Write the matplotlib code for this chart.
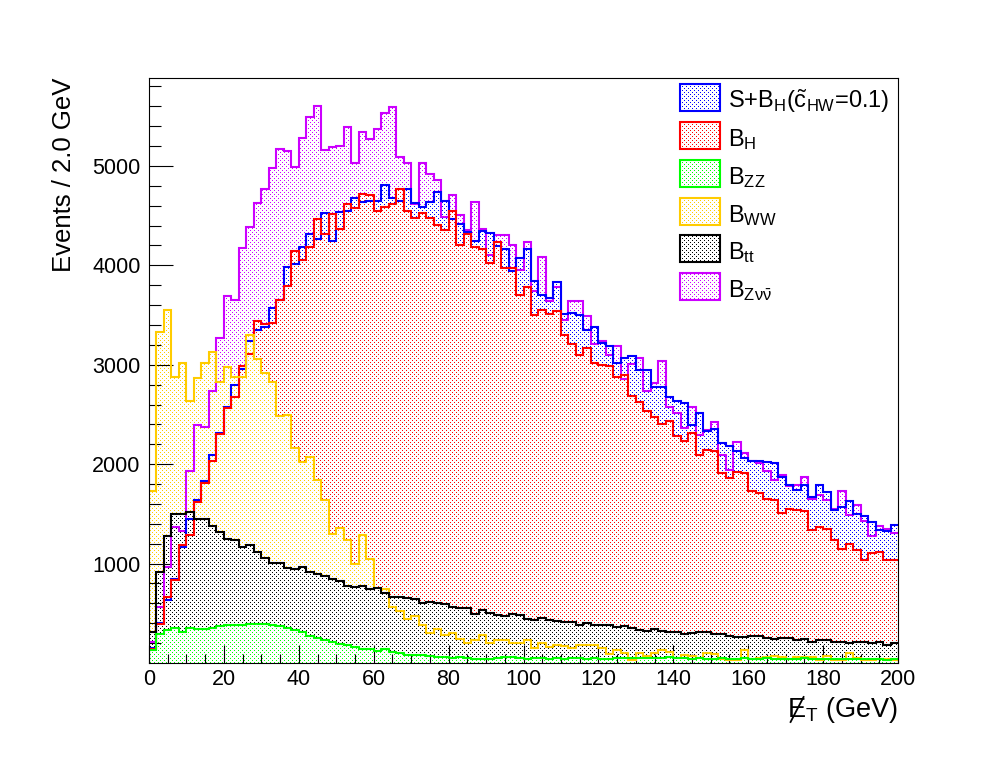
import numpy as np
import matplotlib
matplotlib.use('Agg')
import matplotlib.pyplot as plt
from matplotlib.patches import Rectangle
from matplotlib.lines import Line2D
from matplotlib.colors import to_rgba
from matplotlib.transforms import IdentityTransform

# ---------------- data (100 bins of 2 GeV, 0-200 GeV) ----------------
bin_edges = np.linspace(0, 200, 101)

s_plus_bh = [150, 400, 638, 848, 1166, 1451, 1635, 1835, 2093, 2314,
             2578, 2799, 2957, 3241, 3348, 3382, 3575, 3650, 3987, 4011,
             4188, 4315, 4262, 4529, 4245, 4539, 4546, 4680, 4640, 4647,
             4647, 4810, 4680, 4647, 4770, 4629, 4586, 4640, 4739, 4647,
             4469, 4419, 4338, 4245, 4345, 4328, 4195, 4168, 3944, 4077,
             4161, 3843, 3703, 3676, 3833, 3515, 3525, 3502, 3348, 3382,
             3214, 3191, 3017, 3063, 3084, 2947, 2947, 2779, 2779, 2672,
             2632, 2611, 2398, 2511, 2330, 2354, 2210, 2187, 2137, 2063,
             2036, 2036, 2019, 2009, 1869, 1795, 1742, 1795, 1668, 1795,
             1718, 1534, 1574, 1628, 1501, 1474, 1417, 1333, 1327, 1384]

b_h = [145, 396, 664, 838, 1190, 1283, 1617, 1808, 2036, 2304,
       2565, 2679, 2990, 3107, 3442, 3408, 3415, 3650, 3793, 4145,
       4054, 4188, 4469, 4312, 4519, 4368, 4619, 4579, 4720, 4707,
       4546, 4586, 4613, 4770, 4546, 4479, 4529, 4479, 4406, 4355,
       4546, 4205, 4318, 4185, 4161, 4027, 4238, 3977, 3977, 3700,
       3786, 3499, 3552, 3509, 3542, 3301, 3208, 3097, 3164, 3013,
       2997, 2983, 2873, 2896, 2689, 2622, 2538, 2478, 2405, 2431,
       2287, 2230, 2310, 2096, 2144, 2130, 1916, 1858, 1919, 1909,
       1735, 1708, 1652, 1635, 1507, 1551, 1534, 1527, 1333, 1367,
       1350, 1240, 1150, 1200, 1140, 1039, 1106, 1116, 1039, 1032]

b_zz = [129, 289, 336, 352, 312, 352, 346, 346, 352, 370,
        387, 387, 387, 390, 390, 390, 387, 372, 355, 336,
        312, 276, 252, 229, 212, 195, 179, 162, 145, 142,
        122, 142, 112, 101, 85, 85, 85, 69, 62, 62,
        55, 62, 55, 45, 45, 45, 55, 62, 62, 55,
        45, 48, 52, 45, 50, 45, 55, 48, 45, 52,
        45, 40, 48, 55, 55, 52, 55, 50, 55, 62,
        55, 48, 45, 50, 45, 45, 48, 40, 45, 50,
        45, 42, 48, 45, 40, 45, 42, 48, 45, 45,
        40, 45, 42, 38, 45, 40, 38, 42, 35, 38]

b_ww = [1735, 3334, 3552, 2880, 3013, 2638, 2862, 3013, 3124, 2822,
        2980, 2872, 2872, 3298, 3057, 2916, 2822, 2488, 2495, 2164,
        2019, 2069, 1845, 1635, 1293, 1361, 1233, 992, 1286, 1042,
        754, 748, 563, 523, 440, 470, 380, 302, 346, 286,
        302, 246, 202, 229, 286, 202, 229, 229, 202, 202,
        229, 146, 202, 162, 186, 169, 146, 186, 186, 186,
        146, 88, 129, 102, 30, 102, 69, 102, 129, 112,
        55, 85, 69, 55, 105, 89, 45, 35, 35, 129,
        45, 55, 62, 69, 62, 45, 62, 62, 62, 35,
        69, 35, 35, 105, 55, 35, 28, 45, 45, 35]

b_tt = [312, 915, 1276, 1501, 1501, 1517, 1444, 1444, 1374, 1316,
        1250, 1240, 1166, 1183, 1116, 1059, 1009, 1009, 955, 942,
        965, 915, 899, 872, 848, 824, 778, 764, 771, 748,
        758, 708, 664, 664, 654, 644, 603, 613, 603, 593,
        563, 553, 553, 497, 530, 503, 480, 470, 490, 480,
        440, 430, 453, 430, 420, 413, 413, 386, 403, 380,
        380, 380, 363, 370, 349, 336, 323, 343, 323, 310,
        310, 289, 302, 313, 313, 289, 289, 269, 262, 262,
        269, 269, 249, 242, 252, 252, 232, 242, 212, 236,
        236, 212, 212, 206, 212, 212, 202, 212, 179, 202]

b_zvv = [212, 563, 965, 1367, 1326, 1936, 2394, 2378, 2732, 3264,
         3693, 3653, 4178, 4385, 4630, 4770, 4978, 5172, 5149, 4985,
         5283, 5493, 5604, 5165, 5189, 5202, 5393, 5031, 5343, 5269,
         5373, 5530, 5590, 5092, 5028, 4620, 5028, 4921, 4857, 4486,
         4707, 4506, 4352, 4636, 4362, 4101, 4305, 4305, 4205, 3951,
         4235, 3743, 4084, 3643, 3783, 3449, 3643, 3643, 3492, 3208,
         3241, 3100, 3191, 2856, 3007, 3063, 2739, 2812, 3040, 2578,
         2515, 2364, 2571, 2297, 2344, 2421, 2093, 1946, 2227, 2110,
         2036, 2009, 1936, 1845, 1886, 1778, 1795, 1869, 1652, 1685,
         1635, 1551, 1728, 1491, 1585, 1427, 1273, 1374, 1350, 1306]

legend_labels = [r'S+B$_{\rm H}$($\tilde{\rm c}_{\rm HW}$=0.1)',
                 r'B$_{\rm H}$', r'B$_{\rm ZZ}$', r'B$_{\rm WW}$',
                 r'B$_{\rm tt}$', r'B$_{\rm Z\nu\bar{\nu}}$']
x_ticks = [0, 20, 40, 60, 80, 100, 120, 140, 160, 180, 200]
y_ticks = [1000, 2000, 3000, 4000, 5000]

# ---------------- style ----------------
plt.rcParams['font.family'] = ['Liberation Sans', 'DejaVu Sans']
plt.rcParams['mathtext.fontset'] = 'custom'
plt.rcParams['mathtext.rm'] = 'Liberation Sans'
plt.rcParams['mathtext.it'] = 'Liberation Sans:italic'
plt.rcParams['mathtext.bf'] = 'Liberation Sans:bold'

col = {'sbh': '#0000ff', 'bh': '#ff0000', 'zz': '#00ff00',
       'ww': '#ffcc00', 'tt': '#000000', 'zvv': '#cc00ff'}

W, H = 998, 771
AX_L, AX_R, AX_T, AX_B = 149, 898, 78, 663   # pixel box of the frame (top origin)
fig = plt.figure(figsize=(W / 100, H / 100), dpi=100)
ax = fig.add_axes([AX_L / W, (H - AX_B) / H, (AX_R - AX_L) / W, (AX_B - AX_T) / H])


def dot_pattern(x0, y0, w, h, color):
    """ROOT-like sparse dot fill pattern on the figure pixel grid."""
    yy, xx = np.mgrid[y0:y0 + h, x0:x0 + w]
    on = (yy % 2 == 0) & ((xx + 2 * ((yy // 2) % 2)) % 4 == 0)
    arr = np.zeros((h, w, 4))
    arr[on] = to_rgba(color)
    return arr


ymax = 1.05 * max(b_zvv)
draw_order = [(b_zvv, col['zvv']), (s_plus_bh, col['sbh']), (b_h, col['bh']),
              (b_ww, col['ww']), (b_tt, col['tt']), (b_zz, col['zz'])]
for k, (vals, c) in enumerate(draw_order):
    clip = ax.stairs(vals, bin_edges, baseline=0, fill=True, facecolor='none',
                     edgecolor='none', linewidth=0)
    img = ax.imshow(dot_pattern(AX_L, AX_T, AX_R - AX_L, AX_B - AX_T, c),
                    extent=(0, 200, 0, ymax), origin='upper', aspect='auto',
                    interpolation='nearest', zorder=1 + 0.01 * k)
    img.set_clip_path(clip)
for k, (vals, c) in enumerate(draw_order):
    ax.stairs(vals, bin_edges, baseline=None, fill=False, color=c,
              linewidth=1.5, zorder=2 + 0.01 * k)

ax.set_xlim(0, 200)
ax.set_ylim(0, ymax)
ax.set_xticks(x_ticks)
ax.set_xticks(np.arange(0, 201, 5), minor=True)
ax.set_yticks(y_ticks)
ax.set_yticks(np.arange(200, ymax, 200), minor=True)
ax.tick_params(axis='y', which='major', direction='in', length=17, width=0.8,
               labelsize=15.5, pad=6)
ax.tick_params(axis='y', which='minor', direction='in', length=8.6, width=0.8)
ax.tick_params(axis='x', which='major', direction='in', length=13, width=0.8,
               labelsize=15.5, pad=4)
ax.tick_params(axis='x', which='minor', direction='in', length=6.7, width=0.8)
for s in ax.spines.values():
    s.set_linewidth(0.8)
    s.set_zorder(5)

ax.set_xlabel(r'$\mathrm{E}_{\mathrm{T}}$ (GeV)', loc='right', fontsize=19.5,
              va='baseline')
ax.xaxis.set_label_coords(1.0, -(717 - AX_B) / (AX_B - AX_T))
ax.set_ylabel('Events / 2.0 GeV', loc='top', fontsize=18.5)
ax.yaxis.set_label_coords(-0.0975, 1.0)

# ---------------- legend (drawn by hand, ROOT style, no frame) ----------------
leg_cols = [col['sbh'], col['bh'], col['zz'], col['ww'], col['tt'], col['zvv']]
y_centers = [97.7, 135.5, 173.3, 211.1, 248.9, 286.7]
for lab, c, yc in zip(legend_labels, leg_cols, y_centers):
    top = int(round(yc - 13.5))
    fig.figimage(dot_pattern(680, top, 40, 27, c), xo=680, yo=H - top - 27,
                 origin='upper', zorder=6)
    r = Rectangle((680 / W, 1 - (top + 27) / H), 40 / W, 27 / H,
                  transform=fig.transFigure, facecolor='none', edgecolor=c,
                  linewidth=1.5, zorder=7)
    fig.add_artist(r)
    fig.text(728 / W, 1 - (yc + 10.6) / H, lab, fontsize=17, ha='left',
             va='baseline', zorder=7)

# slash through the E of the missing-ET label
fig.canvas.draw()
bb = ax.xaxis.label.get_window_extent()
e_left = bb.x0
base = H - 717
slash = Line2D([e_left + 3.5, e_left + 16.5], [base - 5, base + 20],
               transform=IdentityTransform(), color='black', linewidth=1.3)
fig.add_artist(slash)

fig.savefig('out.png', dpi=100)
